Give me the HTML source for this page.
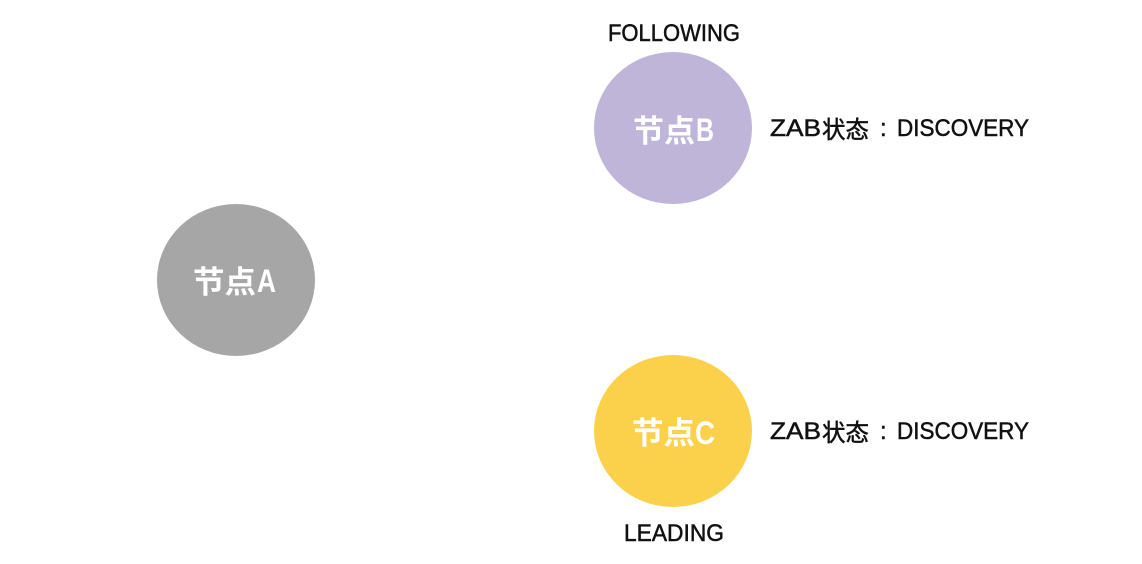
<!DOCTYPE html>
<html>
<head>
<meta charset="utf-8">
<style>
html,body{margin:0;padding:0;background:#fff;}
body{width:1142px;height:564px;overflow:hidden;}
svg{display:block;}
.w{fill:#fff;font-family:"Liberation Sans","Noto Sans CJK SC",sans-serif;font-weight:700;font-size:31px;}
.l{fill:#fff;font-family:"Liberation Sans",sans-serif;font-weight:700;font-size:32px;}
.k{fill:#111;font-family:"Liberation Sans","Noto Sans CJK SC",sans-serif;font-size:24px;stroke:#111;stroke-width:.5px;}
</style>
</head>
<body>
<svg width="1142" height="564" viewBox="0 0 1142 564" xmlns="http://www.w3.org/2000/svg">
<ellipse cx="236" cy="280" rx="79" ry="76" fill="#a6a6a6"/>
<ellipse cx="673" cy="128" rx="79" ry="76" fill="#bfb5d9"/>
<ellipse cx="673" cy="431" rx="79" ry="76" fill="#fbd14b"/>

<text class="w" x="193" y="293" textLength="63" lengthAdjust="spacingAndGlyphs">节点</text>
<text class="l" x="257" y="292" textLength="19" lengthAdjust="spacingAndGlyphs">A</text>
<text class="w" x="633" y="142" textLength="62" lengthAdjust="spacingAndGlyphs">节点</text>
<text class="l" x="696" y="141" textLength="18" lengthAdjust="spacingAndGlyphs">B</text>
<text class="w" x="632" y="444" textLength="63" lengthAdjust="spacingAndGlyphs">节点</text>
<text class="l" x="695" y="444" textLength="20" lengthAdjust="spacingAndGlyphs">C</text>

<text class="k" x="608" y="41" textLength="132" lengthAdjust="spacingAndGlyphs">FOLLOWING</text>
<text class="k" x="624" y="541" textLength="100" lengthAdjust="spacingAndGlyphs">LEADING</text>

<text class="k" x="770" y="136" textLength="51" lengthAdjust="spacingAndGlyphs">ZAB</text>
<text class="k" x="822" y="138" textLength="47" lengthAdjust="spacingAndGlyphs">状态</text>
<text class="k" x="880" y="136">:</text>
<text class="k" x="897" y="136" textLength="132" lengthAdjust="spacingAndGlyphs">DISCOVERY</text>

<text class="k" x="770" y="439" textLength="51" lengthAdjust="spacingAndGlyphs">ZAB</text>
<text class="k" x="822" y="441" textLength="47" lengthAdjust="spacingAndGlyphs">状态</text>
<text class="k" x="880" y="439">:</text>
<text class="k" x="897" y="439" textLength="132" lengthAdjust="spacingAndGlyphs">DISCOVERY</text>
</svg>
</body>
</html>
